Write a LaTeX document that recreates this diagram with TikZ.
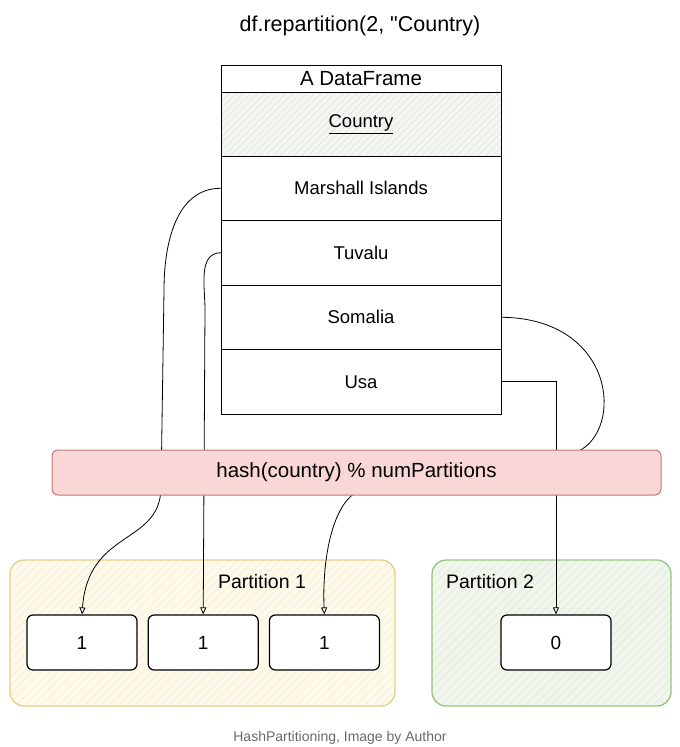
\documentclass[tikz,border=0pt]{standalone}
\usepackage{fontspec}
\setmainfont{Liberation Sans}
\newfontfamily\codefont{Liberation Sans}
\usetikzlibrary{positioning,arrows.meta,patterns.meta}

\definecolor{hashfill}{RGB}{248,215,214}
\definecolor{hashline}{RGB}{196,118,116}
\definecolor{keyfill}{RGB}{243,246,241}
\definecolor{keyhatch}{RGB}{222,230,218}
\definecolor{onefill}{RGB}{253,250,236}
\definecolor{onehatch}{RGB}{246,238,205}
\definecolor{oneline}{RGB}{226,208,135}
\definecolor{twofill}{RGB}{240,246,236}
\definecolor{twohatch}{RGB}{222,236,214}
\definecolor{twoline}{RGB}{150,196,128}
\definecolor{capgray}{RGB}{105,105,105}

\begin{document}
\begin{tikzpicture}[x=1pt, y=-1pt, node distance={10pt},
		row/.style={draw, minimum width=280pt, minimum height=64.5pt, outer sep=0pt, inner sep=0pt, line width=1pt, font=\fontsize{18.5}{21}\selectfont},
		cell/.style={draw, fill=white, rounded corners=6pt, minimum width=110pt, minimum height=55pt, line width=1.2pt, font=\fontsize{19}{22}\selectfont},
		part/.style={rounded corners=14pt, minimum height=146pt, line width=1.3pt},
		hashbox/.style={draw=hashline, fill=hashfill, rounded corners=6pt, minimum width=609pt, minimum height=45pt, line width=1pt, font=\fontsize{20.5}{23}\selectfont},
		link/.style={-{Triangle[open, length=7pt, width=6pt]}, line width=0.8pt},
		label/.style={font=\fontsize{19.5}{22}\selectfont}]
		\useasboundingbox (0,0) rectangle (680,747);
		
		\node[font=\codefont\fontsize{21.5}{24}\selectfont] (title) at (360,26) {df.repartition(2, "Country)};
		
		\node[row, minimum height=27pt, anchor=north, font=\fontsize{20.5}{22}\selectfont] (head) at (361,65) {A DataFrame};
		\node[row, minimum height=64pt, preaction={fill=keyfill}, pattern={Lines[angle=45, distance=5pt, line width=0.6pt]}, pattern color=keyhatch, below=0pt of head] (key) {\underline{Country}};
		\node[row, below=0pt of key] (m) {Marshall Islands};
		\node[row, below=0pt of m] (t) {Tuvalu};
		\node[row, below=0pt of t] (s) {Somalia};
		\node[row, below=0pt of s] (u) {Usa};
		
		\node[part, draw=oneline, preaction={fill=onefill}, pattern={Lines[angle=45, distance=6pt, line width=0.6pt]}, pattern color=onehatch, minimum width=385pt] (p1) at (202.5,633) {};
		\node[part, draw=twoline, preaction={fill=twofill}, pattern={Lines[angle=45, distance=6pt, line width=0.6pt]}, pattern color=twohatch, minimum width=239pt] (p2) at (551.5,633) {};
		\node[label] (l1) at (262,582) {Partition 1};
		\node[label] (l2) at (490,582) {Partition 2};
		
		\node[cell] (c1) at (82,642.5) {1};
		\node[cell, right=of c1] (c2) {1};
		\node[cell, right=of c2] (c3) {1};
		\node[cell] (c0) at (556,642.5) {0};
		
		\draw[link] (m.west) to[out=180, in=90] (164,290) -- (161,490) .. controls (158,545) and (88,530) .. (c1.north);
		\draw[link] (t.west) to[out=180, in=90] (205,310) -- (c2.north);
		\draw[link] (s.east) .. controls (615,318) and (625,430) .. (577,452) -- (355,493) .. controls (332,508) and (322,560) .. (c3.north);
		\draw[link] (u.east) -| (c0.north);
		
		\node[hashbox] (hash) at (356.5,472.5) {hash(country) \% numPartitions};
		
		\node[text=capgray, font=\fontsize{14}{16}\selectfont] (cap) at (340,738) {HashPartitioning, Image by Author};
	\end{tikzpicture}
\end{document}
